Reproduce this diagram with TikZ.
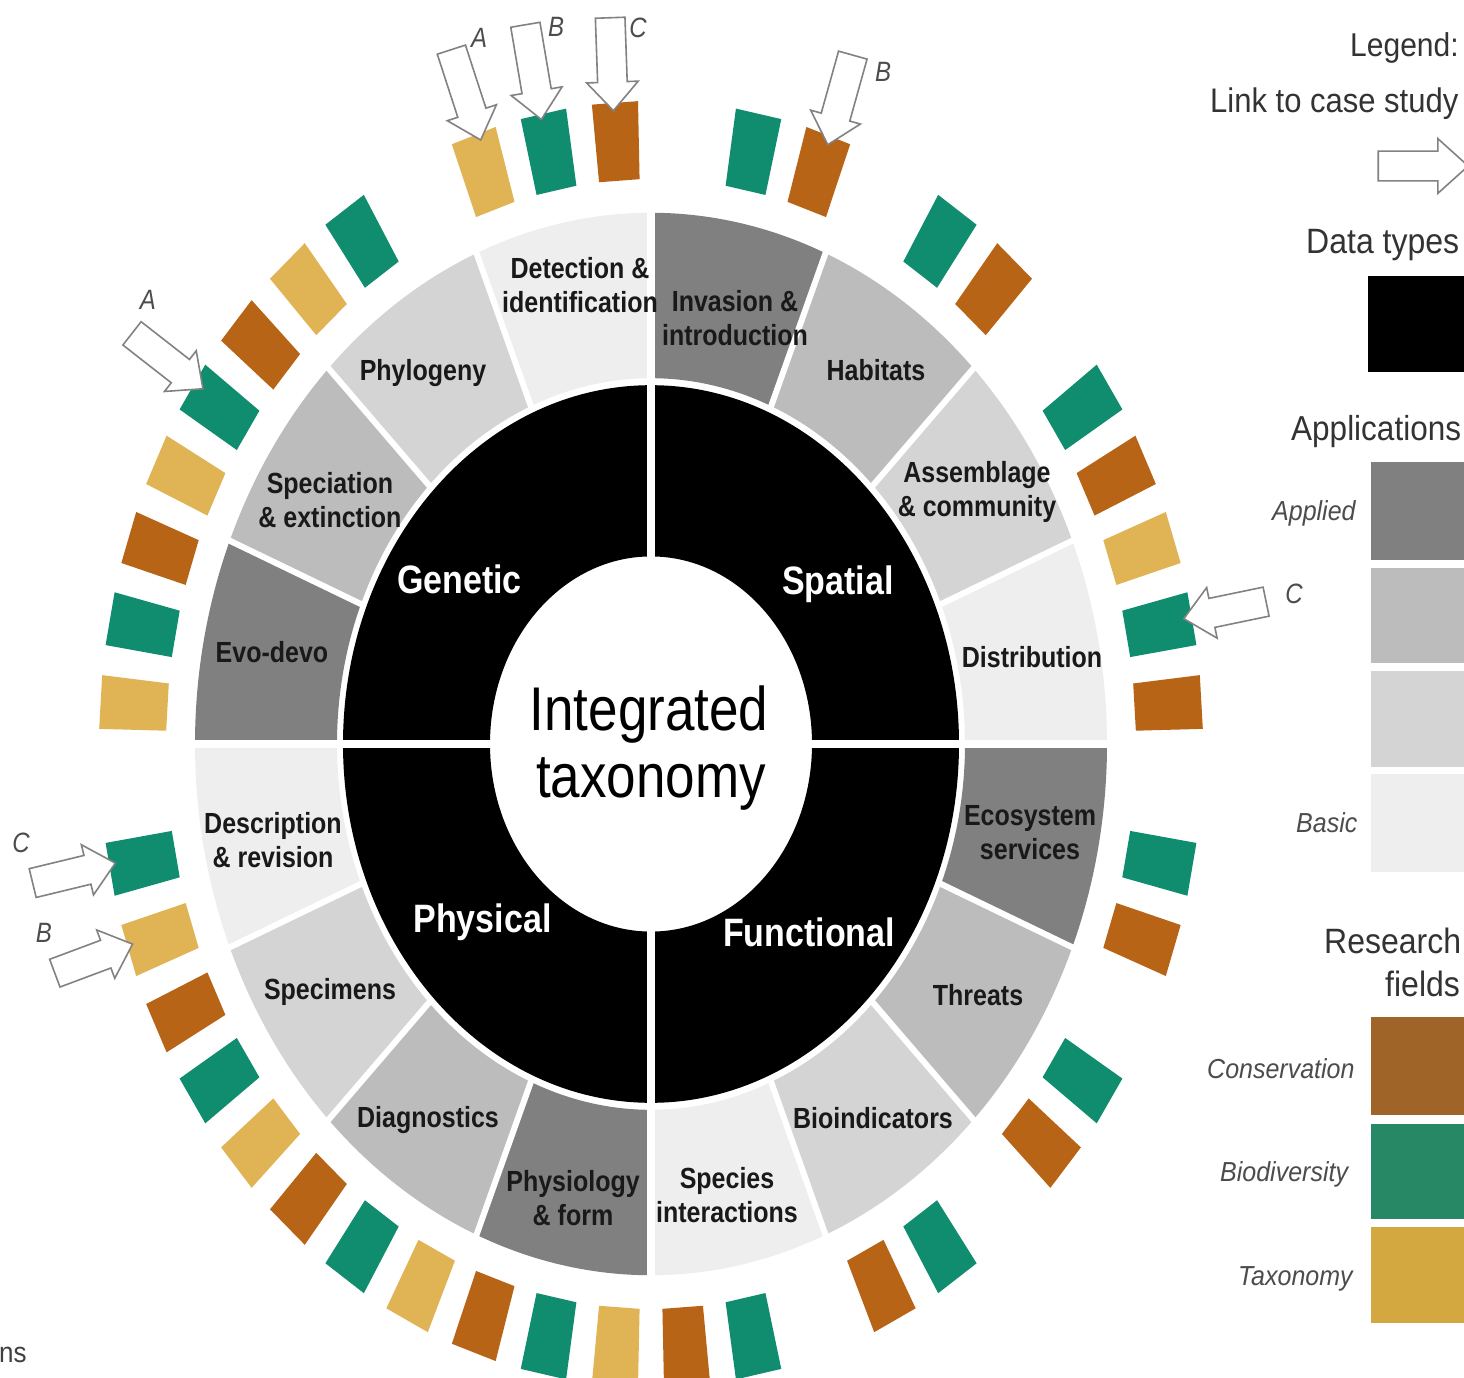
\documentclass[tikz,border=0pt]{standalone}
\usepackage{fontspec}
\setmainfont{Liberation Sans}
\usetikzlibrary{shapes.arrows}
\definecolor{cteal}{RGB}{16,140,110}
\definecolor{cbrown}{RGB}{184,100,22}
\definecolor{ctan}{RGB}{224,180,84}
\definecolor{lteal}{RGB}{38,136,100}
\definecolor{lbrown}{RGB}{158,100,40}
\definecolor{ltan}{RGB}{212,168,64}
\definecolor{gA}{RGB}{128,128,128}
\definecolor{gB}{RGB}{188,188,188}
\definecolor{gC}{RGB}{212,212,212}
\definecolor{gD}{RGB}{238,238,238}
\definecolor{arrowgray}{RGB}{130,130,130}
\tikzset{
  seglabel/.style={font=\fontsize{25}{29}\selectfont\bfseries, text=black!90, align=center, inner sep=0pt, yscale=1.165},
  quadlabel/.style={font=\fontsize{34}{40}\selectfont\bfseries, text=white, inner sep=0pt, anchor=base, yscale=1.165},
  centerlabel/.style={font=\fontsize{53}{58}\selectfont, text=black, inner sep=0pt, anchor=base, yscale=1.165},
  legtitle/.style={font=\fontsize{#1}{34}\selectfont, text=black!80, inner sep=0pt, anchor=base west, yscale=1.1},
  legitem/.style={font=\fontsize{25}{29}\selectfont\itshape, text=black!70, inner sep=0pt, anchor=base west, yscale=1.1},
  caseletter/.style={font=\fontsize{24}{27}\selectfont\itshape, text=black!70, inner sep=0pt, yscale=1.165},
  casearrow/.style={single arrow, draw=arrowgray, fill=white, line width=1.6pt, inner xsep=0pt, inner ysep=14pt, single arrow head extend=11pt, single arrow tip angle=84, minimum height=#1pt},
}
\begin{document}
\begin{tikzpicture}[x=1pt,y=1pt]
\useasboundingbox (0,0) rectangle (1464,-1378);
\clip (0,0) rectangle (1464,-1378);
\fill[white] (0,0) rectangle (1464,-1378);

\begin{scope}[shift={(651,-744)}, yscale=1.165]
  % black data-type ring
  \fill[black, even odd rule] (0,0) circle[radius=308] (0,0) circle[radius=161];
  % grey application segments
  \foreach \a/\col in {0/gD, 22.5/gC, 45/gB, 67.5/gA, 90/gD, 112.5/gC, 135/gB, 157.5/gA, 180/gD, 202.5/gC, 225/gB, 247.5/gA, 270/gD, 292.5/gC, 315/gB, 337.5/gA}{
    \fill[\col] (\a:314) arc[start angle=\a, delta angle=22.5, radius=314] -- ({\a+22.5}:456) arc[start angle={\a+22.5}, delta angle=-22.5, radius=456] -- cycle;
  }
  \foreach \a in {22.5,45,67.5,112.5,135,157.5,202.5,225,247.5,292.5,315,337.5}
    \draw[white, line width=6pt] (\a:311) -- (\a:470);
  \foreach \a in {0,90,180,270}
    \draw[white, line width=8pt] (\a:150) -- (\a:470);
  % research-field tiles
  \foreach \a/\col in {93.75/cbrown, 101.25/cteal, 108.75/ctan, 123.75/cteal, 131.25/ctan, 138.75/cbrown, 146.25/cteal, 153.75/ctan, 161.25/cbrown, 168.75/cteal, 176.25/ctan, -168.75/cteal, -161.25/ctan, -153.75/cbrown, -146.25/cteal, -138.75/ctan, -131.25/cbrown, -123.75/cteal, -116.25/ctan, -108.75/cbrown, -101.25/cteal, -93.75/ctan, -86.25/cbrown, -78.75/cteal, -63.75/cbrown, -56.25/cteal, -41.25/cbrown, -33.75/cteal, -18.75/cbrown, -11.25/cteal, 3.75/cbrown, 11.25/cteal, 18.75/ctan, 26.25/cbrown, 33.75/cteal, 48.75/cbrown, 56.25/cteal, 71.25/cbrown, 78.75/cteal}{
    \fill[\col] ({\a-2.4}:485) -- ({\a+2.4}:485) -- ({\a+2.4}:552) -- ({\a-2.4}:552) -- cycle;
  }
\end{scope}

% centre
\node[centerlabel] (ctop) at (649,-730) {Integrated};
\node[centerlabel] (cbot) at (651,-797) {taxonomy};

% quadrant labels
\node[quadlabel] (genetic) at (459.5,-593) {Genetic};
\node[quadlabel] (spatial) at (838,-594) {Spatial};
\node[quadlabel] (physical) at (482.5,-932) {Physical};
\node[quadlabel] (functional) at (809,-946) {Functional};

% segment labels
\node[seglabel] (detection) at (580,-285) {Detection \&\\identification};
\node[seglabel] (invasion) at (735,-318) {Invasion \&\\introduction};
\node[seglabel] (habitats) at (876,-370) {Habitats};
\node[seglabel] (assemblage) at (977,-492) {Assemblage\\\& community};
\node[seglabel] (distribution) at (1032,-657) {Distribution};
\node[seglabel] (ecosystem) at (1030,-833) {Ecosystem\\services};
\node[seglabel] (threats) at (978,-995) {Threats};
\node[seglabel] (bioindicators) at (873,-1118) {Bioindicators};
\node[seglabel] (species) at (727,-1195) {Species\\interactions};
\node[seglabel] (physiology) at (573,-1198) {Physiology\\\& form};
\node[seglabel] (diagnostics) at (428,-1120) {Diagnostics};
\node[seglabel] (specimens) at (330,-992) {Specimens};
\node[seglabel] (description) at (273,-840) {Description\\\& revision};
\node[seglabel] (evodevo) at (272,-652) {Evo-devo};
\node[seglabel] (speciation) at (330,-500) {Speciation\\\& extinction};
\node[seglabel] (phylogeny) at (423,-373) {Phylogeny};

% links to case studies
\node[casearrow=95, rotate=-72] (arrA1) at (463.5,-87) {};
\node[casearrow=96, rotate=-80.4] (arrB1) at (532,-64) {};
\node[casearrow=93, rotate=-88] (arrC1) at (611.5,-56) {};
\node[casearrow=93, rotate=-105.6] (arrB2) at (842.5,-92) {};
\node[casearrow=90, rotate=-38] (arrA2) at (161,-356) {};
\node[casearrow=84, rotate=191.7] (arrC2) at (1233,-608.5) {};
\node[casearrow=85, rotate=13.6] (arrC3) at (66,-875) {};
\node[casearrow=83, rotate=20.5] (arrB3) at (86,-961.5) {};

\node[caseletter] (lA1) at (479,-38) {A};
\node[caseletter] (lB1) at (556,-27) {B};
\node[caseletter] (lC1) at (638,-28) {C};
\node[caseletter] (lB2) at (883,-72) {B};
\node[caseletter] (lA2) at (148,-300) {A};
\node[caseletter] (lC2) at (1294,-594) {C};
\node[caseletter] (lC3) at (21,-843) {C};
\node[caseletter] (lB3) at (44,-933) {B};

% legend
\node[legtitle=30] (legend) at (1350,-57) {Legend:};
\node[legtitle=31] (link) at (1210,-113) {Link to case study};
\node[casearrow=90, inner ysep=14pt, single arrow head extend=12.5pt] (legarrow) at (1415,-166) {};
\node[legtitle=32] (datatypes) at (1306,-253) {Data types};
\fill[black] (1368,-276) rectangle (1464,-372);
\node[legtitle=31.5] (applications) at (1291,-440) {Applications};
\fill[gA] (1371,-462) rectangle (1464,-560);
\fill[gB] (1371,-568) rectangle (1464,-663);
\fill[gC] (1371,-671) rectangle (1464,-767);
\fill[gD] (1371,-774) rectangle (1464,-872);
\node[legitem] (applied) at (1272,-520) {Applied};
\node[legitem] (basic) at (1296,-832) {Basic};
\node[legtitle=32] (research) at (1324,-953) {Research};
\node[legtitle=32] (fields) at (1385,-996) {fields};
\fill[lbrown] (1371,-1017) rectangle (1464,-1115);
\fill[lteal] (1371,-1124) rectangle (1464,-1219);
\fill[ltan] (1371,-1227) rectangle (1464,-1323);
\node[legitem] (conservation) at (1207,-1078) {Conservation};
\node[legitem] (biodiversity) at (1220,-1181) {Biodiversity};
\node[legitem] (taxonomyleg) at (1238,-1285) {Taxonomy};

\node[font=\fontsize{26}{30}\selectfont, text=black!75, anchor=base west, inner sep=0pt, yscale=1.1] (ns) at (-1,-1362) {ns};
\end{tikzpicture}
\end{document}
